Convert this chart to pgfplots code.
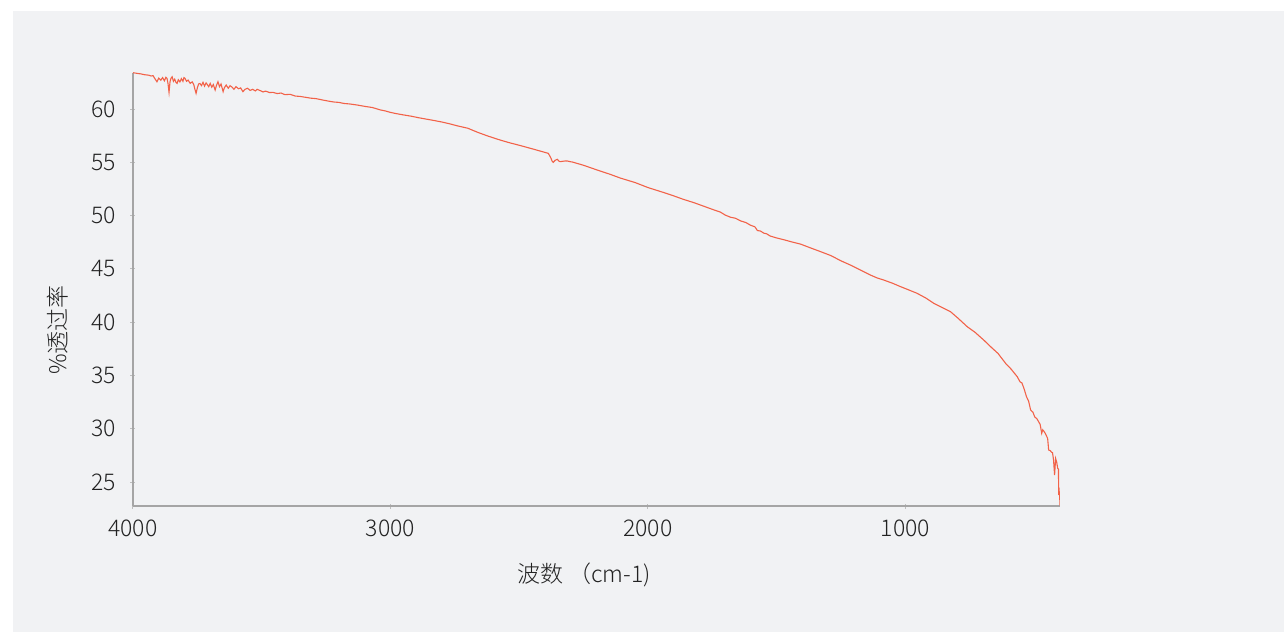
\documentclass[border=0pt]{standalone}
\usepackage{fontspec}
\setmainfont{Noto Sans CJK SC}[UprightFont={* Light}]
\usepackage{pgfplots}
\pgfplotsset{compat=1.18}
\definecolor{panel}{RGB}{241,242,244}
\definecolor{trace}{RGB}{242,98,72}
\definecolor{axisgray}{RGB}{165,165,165}
\definecolor{tickgray}{RGB}{190,190,190}
\definecolor{txt}{RGB}{34,34,34}

\begin{document}
\begin{tikzpicture}
% page and panel
\fill[white] (0pt,0pt) rectangle (642pt,316pt);
\fill[panel] (6.5pt,0pt) rectangle (642pt,310.5pt);
\begin{axis}[
  at={(66.5pt,63pt)}, anchor=south west,
  scale only axis, width=463.5pt, height=216.65pt,
  x dir=reverse, xmin=400, xmax=4000,
  ymin=22.75, ymax=63.41,
  axis x line*=bottom, axis y line*=left,
  axis line style={axisgray, line width=0.7pt},
  tick style={tickgray, line width=0.5pt},
  tick align=center, major tick length=2.5pt,
  xtick={1000,2000,3000,4000},
  ytick={25,30,...,60},
  ticklabel style={font=\fontsize{11.5}{13}\selectfont, text=txt},
  /pgf/number format/assume math mode=true,
  /pgf/number format/set thousands separator={},
  xticklabel style={anchor=north, inner sep=0pt, yshift=-5.5pt},
  yticklabel style={anchor=east, inner sep=0pt, xshift=-7pt},
]
\addplot[trace, line width=0.55pt, mark=none] table[x=w, y=t] {
w t
4000 63.41
3985 63.35
3970 63.30
3955 63.22
3940 63.18
3930 63.10
3922 63.13
3915 62.85
3907 62.56
3900 62.90
3892 62.70
3885 62.95
3878 62.65
3872 62.98
3868 62.88
3864 62.40
3860 61.56
3856 62.60
3852 62.90
3848 63.03
3843 62.60
3838 62.80
3833 62.50
3829 62.40
3824 62.75
3818 62.55
3812 62.85
3806 62.60
3802 62.95
3798 62.88
3792 62.60
3786 62.72
3778 62.41
3770 62.55
3764 62.30
3760 61.90
3755 61.47
3750 62.00
3745 62.35
3740 62.40
3734 62.20
3728 62.50
3722 62.15
3716 62.45
3712 62.32
3706 62.10
3700 62.40
3694 62.05
3688 62.30
3681 61.78
3676 62.20
3670 62.56
3664 62.10
3658 62.35
3650 61.63
3645 62.00
3638 62.25
3630 61.95
3623 62.19
3615 62.05
3608 61.85
3600 62.10
3590 61.90
3582 61.98
3573 61.63
3565 61.85
3555 61.95
3545 61.75
3535 61.85
3525 61.70
3518 61.85
3505 61.72
3495 61.60
3485 61.68
3470 61.55
3456 61.56
3440 61.45
3425 61.50
3410 61.35
3390 61.38
3370 61.22
3350 61.18
3330 61.10
3310 61.02
3290 60.98
3262 60.84
3240 60.74
3220 60.66
3200 60.62
3180 60.52
3160 60.48
3130 60.38
3100 60.25
3070 60.14
3040 59.92
3020 59.82
3001 59.69
2980 59.58
2950 59.45
2920 59.33
2890 59.18
2860 59.05
2830 58.92
2800 58.78
2768 58.60
2740 58.42
2700 58.20
2660 57.80
2620 57.45
2574 57.09
2540 56.85
2500 56.60
2450 56.27
2400 55.93
2387 55.84
2378 55.45
2372 55.10
2368 55.00
2360 55.20
2352 55.28
2345 55.10
2341 55.06
2330 55.10
2320 55.13
2313 55.12
2300 55.05
2294 55.03
2250 54.72
2200 54.30
2150 53.90
2107 53.52
2050 53.10
2000 52.63
1950 52.25
1900 51.85
1863 51.53
1820 51.20
1780 50.85
1740 50.50
1719 50.33
1700 50.05
1680 49.85
1660 49.75
1640 49.50
1620 49.35
1602 49.10
1585 48.95
1575 48.60
1563 48.55
1550 48.35
1540 48.30
1525 48.08
1500 47.90
1470 47.72
1440 47.52
1408 47.33
1370 46.98
1330 46.62
1290 46.25
1250 45.75
1214 45.36
1180 44.95
1136 44.42
1110 44.15
1084 43.95
1050 43.65
1019 43.33
990 43.05
955 42.71
920 42.25
890 41.77
860 41.40
825 40.98
795 40.35
760 39.57
730 39.05
696 38.32
665 37.60
640 37.05
631 36.76
610 36.10
590 35.60
575 35.15
566 34.88
555 34.40
548 34.30
540 33.79
530 33.00
522 32.60
514 31.76
505 31.55
498 31.10
490 30.95
483 30.66
477 30.40
471 29.57
467 29.90
464 29.82
458 29.60
452 29.30
448 29.10
444 28.00
438 27.95
433 27.80
429 27.75
425 27.06
421 25.65
417 27.20
413 26.90
409 26.30
406 26.20
405 23.80
403 24.10
401 23.50
400 22.80
};
\end{axis}
% axis titles
\node[font=\fontsize{11.5}{13}\selectfont, text=txt] at (292pt,28.5pt) {波数 （cm-1)};
\node[font=\fontsize{11.5}{13}\selectfont, text=txt, rotate=90] at (29pt,151pt) {\%透过率};
\end{tikzpicture}
\end{document}
